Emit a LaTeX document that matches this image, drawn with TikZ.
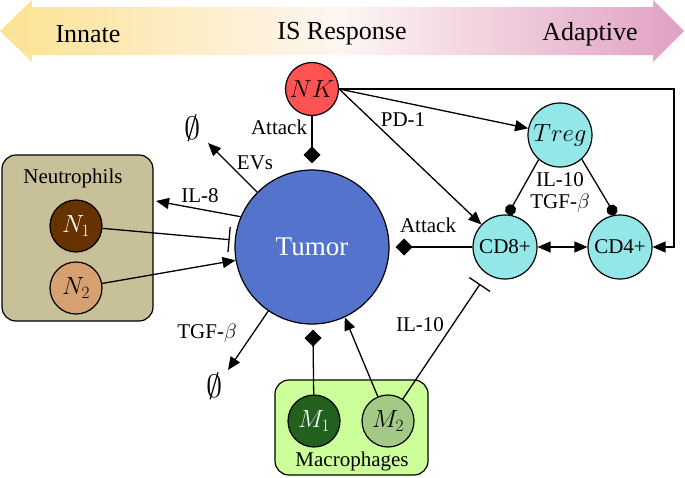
\documentclass[tikz,border=0pt]{standalone}
\usepackage{graphicx}
\usepackage{fontspec}
\setmainfont{Liberation Serif}
\usetikzlibrary{arrows.meta,calc}
\definecolor{topyellow}{RGB}{252,226,146}
\definecolor{topwhite}{RGB}{253,246,242}
\definecolor{toppink}{RGB}{225,160,196}
\definecolor{tumorblue}{RGB}{83,115,205}
\definecolor{nkred}{RGB}{255,82,82}
\definecolor{cyanc}{RGB}{148,231,231}
\definecolor{neutbox}{RGB}{199,192,152}
\definecolor{macbox}{RGB}{204,255,153}
\definecolor{nonecol}{RGB}{102,51,0}
\definecolor{ntwocol}{RGB}{214,160,112}
\definecolor{monecol}{RGB}{34,96,30}
\definecolor{mtwocol}{RGB}{164,201,135}
\begin{document}
\begin{tikzpicture}[x=1pt,y=-1pt,
  every node/.style={font=\fontsize{21}{25}\selectfont},
  cell/.style={circle,draw,line width=1.2pt,inner sep=0pt},
  mathcell/.style={font=\fontsize{23}{27}\selectfont},
  bigcell/.style={cell,minimum size=64pt,fill=cyanc},
  smallcell/.style={cell,minimum size=52pt,mathcell},
  grp/.style={draw,rounded corners=14pt,line width=1.2pt,inner sep=0pt},
  conn/.style={line width=1.3pt},
  arr/.style={conn,-{Triangle[length=13pt,width=11pt]}},
  dbl/.style={conn,{Triangle[length=13pt,width=11pt]}-{Triangle[length=13pt,width=11pt]}},
  diam/.style={conn,-{Diamond[length=17pt,width=17pt]}},
  inhib/.style={conn,-{Bar[width=25pt,line width=1.3pt]}},
  dotend/.style={conn,-{Circle[length=11pt]}},
  toplabel/.style={font=\fontsize{26}{30}\selectfont},
  nul/.style={font=\fontsize{24}{28}\selectfont,inner sep=0pt}
]
\useasboundingbox (0,0) rectangle (685,477);

% top gradient arrow
\path[left color=topyellow,right color=toppink,middle color=topwhite]
  (0,31) -- (32,0) -- (32,7) -- (653,7) -- (653,0) -- (684,31) -- (653,62)
  -- (653,55) -- (32,55) -- (32,62) -- cycle;
\node[toplabel] (innate) at (88,34) {Innate};
\node[toplabel] (isresp) at (342,34) {IS Response};
\node[toplabel] (adapt) at (590,34) {Adaptive};

% groups
\node[grp,fill=neutbox,minimum width=151pt,minimum height=166pt] (neut) at (77.5,238) {};
\node (neutlabel) at (73,178) {Neutrophils};
\node[grp,fill=macbox,minimum width=153pt,minimum height=95pt] (mac) at (351.5,427.5) {};
\node (maclabel) at (352,461) {Macrophages};

% cells
\node[cell,minimum size=154pt,fill=tumorblue,text=white,font=\fontsize{27}{31}\selectfont] (tumor) at (312,247) {Tumor};
\node[cell,mathcell,minimum size=53pt,fill=nkred] (nk) at (312,89) {$NK$};
\node[bigcell,mathcell] (treg) at (560,135) {$Treg$};
\node[bigcell] (cd8) at (505,247) {CD8+};
\node[bigcell] (cd4) at (620,247) {CD4+};
\node[smallcell,fill=nonecol,text=white] (n1) at (76,226) {$N_1$};
\node[smallcell,fill=ntwocol] (n2) at (76,288) {$N_2$};
\node[smallcell,fill=monecol,text=white] (m1) at (314,421) {$M_1$};
\node[smallcell,fill=mtwocol] (m2) at (388,421) {$M_2$};

% null sinks
\node[nul] (null1) at (193,128) {\scalebox{1.3}{$\emptyset$}};
\node[nul] (null2) at (215,386) {\scalebox{1.3}{$\emptyset$}};
\coordinate (evtip) at (208,143);
\coordinate (tgftip) at (228,370);
\coordinate (iltip) at (156,201);
\coordinate (corner) at (674,89);

% connectors
\draw[diam,shorten >=6pt] (nk) -- (tumor);
\draw[arr] (tumor) -- (evtip);
\draw[arr] (tumor) -- (tgftip);
\draw[arr] (tumor.157) -- (iltip);
\draw[inhib,shorten >=5pt] (n1) -- (tumor);
\draw[arr] (n2) -- (tumor);
\draw[diam,shorten >=5pt] (m1) -- (tumor);
\draw[arr] (m2) -- (tumor.-65);
\draw[inhib,shorten >=12pt] (m2) -- (cd8);
\draw[diam,shorten >=6pt] (cd8) -- (tumor);
\draw[dbl] (cd8) -- (cd4);
\draw[arr] (nk.east) -- (treg);
\draw[arr] (nk.east) -- (cd8);
\draw[arr] (nk.east) -- (corner) |- (cd4);
\draw[dotend] (treg.229) -- (cd8.85);
\draw[dotend] (treg.-48) -- (cd4.99);

% labels
\node (attack1) at (279,127) {Attack};
\node (evs) at (255,163) {EVs};
\node (il8) at (200,196) {IL-8};
\node (tgf1) at (207,333) {TGF-$\beta$};
\node (il10a) at (420,325) {IL-10};
\node (attack2) at (428,225) {Attack};
\node (pd1) at (403,120) {PD-1};
\node (il10b) at (560,180) {IL-10};
\node (tgf2) at (560,203) {TGF-$\beta$};
\end{tikzpicture}
\end{document}
